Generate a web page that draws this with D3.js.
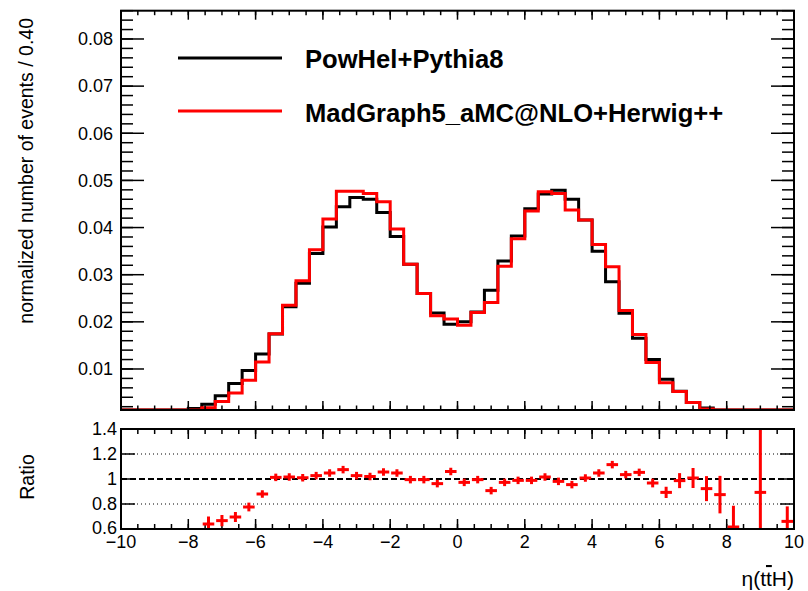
<!DOCTYPE html>
<html><head><meta charset="utf-8">
<script src="https://cdn.jsdelivr.net/npm/d3@7"></script>
<style>
html,body{margin:0;padding:0;background:#fff;}
svg{display:block;}
text{font-family:"Liberation Sans",Arial,Helvetica,sans-serif;}
</style></head>
<body>
<svg id="c" width="808" height="591"></svg>
<script>
// ---- data ----
const binEdgesRange = [-10, 10];
const nBins = 50;
const powhel = [0.0002,0.0003,0.0005,0.0008,0.0011,0.0016,0.0025,0.0043,0.0069,0.0097,
  0.0132,0.0174,0.0232,0.0282,0.0345,0.0401,0.0444,0.0464,0.0460,0.0432,
  0.0381,0.0322,0.0260,0.0219,0.0195,0.0200,0.0221,0.0267,0.0329,0.0382,
  0.0440,0.0471,0.0479,0.0460,0.0416,0.0350,0.0285,0.0218,0.0165,0.0120,
  0.0078,0.0053,0.0029,0.0017,0.0010,0.0006,0.0003,0.0002,0.0001,0.00005];
const madgraph = [0,0,0,0,0,0.0008,0.0018,0.0031,0.0049,0.0076,
  0.0115,0.0175,0.0235,0.0287,0.0353,0.0418,0.0477,0.0477,0.0472,0.0455,
  0.0397,0.0322,0.0260,0.0213,0.0206,0.0193,0.0220,0.0241,0.0318,0.0376,
  0.0435,0.0476,0.0472,0.0437,0.0416,0.0364,0.0317,0.0224,0.0173,0.0114,
  0.0071,0.0052,0.0029,0.0015,0.0009,0.0004,0,0.0002,0,0.00005];
const ratioX = [-7.4,-7.0,-6.6,-6.2,-5.8,-5.4,-5.0,-4.6,-4.2,-3.8,-3.4,-3.0,-2.6,-2.2,-1.8,-1.4,-1.0,-0.6,-0.2,0.2,
  0.6,1.0,1.4,1.8,2.2,2.6,3.0,3.4,3.8,4.2,4.6,5.0,5.4,5.8,6.2,6.6,7.0,7.4,7.8,8.2,9.0,9.8];
const ratioVal = [0.64,0.667,0.696,0.776,0.88,1.013,1.016,1.01,1.027,1.048,1.075,1.027,1.02,1.056,1.048,0.995,0.995,0.963,1.06,0.973,
  0.995,0.907,0.973,0.989,0.989,1.016,0.981,0.955,1.008,1.048,1.115,1.035,1.053,0.968,0.893,0.987,1.008,0.923,0.875,0.616,0.893,0.661];
const ratioErr = [0.06,0.045,0.04,0.035,0.03,0.03,0.03,0.03,0.03,0.03,0.03,0.03,0.03,0.03,0.03,0.03,0.03,0.03,0.03,0.03,
  0.03,0.03,0.03,0.03,0.03,0.03,0.03,0.03,0.03,0.03,0.03,0.03,0.03,0.035,0.045,0.06,0.08,0.1,0.15,0.17,0.9,0.12];
const yTicksMain = [0.01,0.02,0.03,0.04,0.05,0.06,0.07,0.08];
const yTicksRatio = [0.6,0.8,1,1.2,1.4];
const xTicks = [-10,-8,-6,-4,-2,0,2,4,6,8,10];
const legendLabels = ["PowHel+Pythia8","MadGraph5_aMC@NLO+Herwig++"];
const seriesColors = ["#000000","#ff0000"];

// ---- layout ----
const L = 121, R = 794;
const mainTop = 10.7, mainBot = 410;
const ratTop = 429, ratBot = 529;
const svg = d3.select("#c");
const x = d3.scaleLinear().domain(binEdgesRange).range([L, R]);
const y = d3.scaleLinear().domain([0.0013, 0.086]).range([mainBot, mainTop]);
const yr = d3.scaleLinear().domain([0.6, 1.4]).range([ratBot, ratTop]);
const bw = (binEdgesRange[1]-binEdgesRange[0])/nBins;
const edges = d3.range(nBins+1).map(i => binEdgesRange[0] + i*bw);

const defs = svg.append("defs");
defs.append("clipPath").attr("id","cm").append("rect").attr("x",L).attr("y",mainTop).attr("width",R-L).attr("height",mainBot-mainTop);
defs.append("clipPath").attr("id","cr").append("rect").attr("x",L).attr("y",ratTop).attr("width",R-L).attr("height",ratBot-ratTop);

// histograms
function stepPath(vals){
  const ymin = y.domain()[0];
  let p = "";
  vals.forEach((v,i)=>{
    const yy = y(Math.max(v, ymin));
    p += (i===0 ? "M"+x(edges[0])+","+yy : "V"+yy) + "H"+x(edges[i+1]);
  });
  return p;
}
const gh = svg.append("g").attr("clip-path","url(#cm)");
[powhel, madgraph].forEach((vals,k)=>{
  gh.append("path").attr("d", stepPath(vals)).attr("fill","none")
    .attr("stroke", seriesColors[k]).attr("stroke-width",3).attr("stroke-linejoin","miter");
});

// ticks helper
function tickLines(g, vals, scale, orient, len, pos){
  vals.forEach(v=>{
    const p = scale(v);
    if (orient==="left") g.append("line").attr("x1",pos).attr("x2",pos+len).attr("y1",p).attr("y2",p);
    if (orient==="right") g.append("line").attr("x1",pos).attr("x2",pos-len).attr("y1",p).attr("y2",p);
    if (orient==="bottom") g.append("line").attr("x1",p).attr("x2",p).attr("y1",pos).attr("y2",pos-len);
    if (orient==="top") g.append("line").attr("x1",p).attr("x2",p).attr("y1",pos).attr("y2",pos+len);
  });
}
const gt = svg.append("g").attr("stroke","#000").attr("stroke-width",1.5);
const xMinor = d3.range(-10, 10.001, 0.5);
// main panel
const yMinorMain = d3.range(0.002, 0.0861, 0.002).filter(v=>v>=y.domain()[0]);
tickLines(gt, yMinorMain, y, "left", 12, L);
tickLines(gt, yMinorMain, y, "right", 12, R);
tickLines(gt, yTicksMain, y, "left", 23, L);
tickLines(gt, yTicksMain, y, "right", 23, R);
tickLines(gt, xMinor, x, "bottom", 4.5, mainBot);
tickLines(gt, xMinor, x, "top", 4.5, mainTop);
tickLines(gt, xTicks, x, "bottom", 9, mainBot);
tickLines(gt, xTicks, x, "top", 9, mainTop);
// ratio panel
tickLines(gt, xMinor, x, "bottom", 5, ratBot);
tickLines(gt, xMinor, x, "top", 5, ratTop);
tickLines(gt, xTicks, x, "bottom", 10, ratBot);
tickLines(gt, xTicks, x, "top", 10, ratTop);
tickLines(gt, yTicksRatio, yr, "left", 14, L);
tickLines(gt, yTicksRatio, yr, "right", 14, R);

// reference lines in ratio
[0.8,1.2].forEach(v=>{
  svg.append("line").attr("x1",L).attr("x2",R).attr("y1",yr(v)).attr("y2",yr(v))
    .attr("stroke","#000").attr("stroke-width",1).attr("stroke-dasharray","1,3");
});
svg.append("line").attr("x1",L).attr("x2",R).attr("y1",yr(1)).attr("y2",yr(1))
  .attr("stroke","#000").attr("stroke-width",2).attr("stroke-dasharray","6,3");

// ratio points
const gr = svg.append("g").attr("clip-path","url(#cr)").attr("stroke","#ff0000").attr("stroke-width",3);
const hx = 0.086*2;
ratioX.forEach((cx,i)=>{
  const v = ratioVal[i], e = ratioErr[i];
  gr.append("line").attr("x1",x(cx-hx)).attr("x2",x(cx+hx)).attr("y1",yr(v)).attr("y2",yr(v));
  gr.append("line").attr("x1",x(cx)).attr("x2",x(cx)).attr("y1",yr(v-e)).attr("y2",yr(v+e));
});

// frames
svg.append("rect").attr("x",L).attr("y",mainTop).attr("width",R-L).attr("height",mainBot-mainTop)
  .attr("fill","none").attr("stroke","#000").attr("stroke-width",2);
svg.append("rect").attr("x",L).attr("y",ratTop).attr("width",R-L).attr("height",ratBot-ratTop)
  .attr("fill","none").attr("stroke","#000").attr("stroke-width",2);

// tick labels
const fmtMain = d3.format(".2f");
yTicksMain.forEach(v=>{
  svg.append("text").attr("x",L-8).attr("y",y(v)).attr("dy","0.35em").attr("text-anchor","end")
    .attr("font-size",18).text(fmtMain(v));
});
const fmtR = v => (v===1 ? "1" : d3.format(".1f")(v));
yTicksRatio.forEach(v=>{
  svg.append("text").attr("x",L-4).attr("y",yr(v) - (v===0.6 ? 1.5 : 0)).attr("dy","0.35em").attr("text-anchor","end")
    .attr("font-size",18).text(fmtR(v));
});
xTicks.forEach(v=>{
  svg.append("text").attr("x",x(v)).attr("y",548).attr("text-anchor","middle")
    .attr("font-size",18).text(v<0 ? "\u2212"+Math.abs(v) : String(v));
});

// axis titles
svg.append("text").attr("transform","translate(33,"+((mainTop+322+15)/2 - 3)+") rotate(-90)")
  .attr("text-anchor","middle").attr("font-size",19.5).text("normalized number of events / 0.40");
svg.append("text").attr("transform","translate(34,477) rotate(-90)")
  .attr("text-anchor","middle").attr("font-size",19.5).text("Ratio");
const xt = svg.append("text").attr("x",R).attr("y",586).attr("text-anchor","end").attr("font-size",21);
xt.append("tspan").text("\u03b7(t");
xt.append("tspan").attr("text-decoration","overline").text("t");
xt.append("tspan").text("H)");

// legend
const legY = [58, 111];
const legTextY = [68, 121.5];
legendLabels.forEach((lab,k)=>{
  svg.append("line").attr("x1",178).attr("x2",282).attr("y1",legY[k]).attr("y2",legY[k])
    .attr("stroke",seriesColors[k]).attr("stroke-width",3);
  svg.append("text").attr("x",305).attr("y",legTextY[k]).attr("font-size",25.6).attr("font-weight","bold").text(lab);
});
</script>
</body></html>
